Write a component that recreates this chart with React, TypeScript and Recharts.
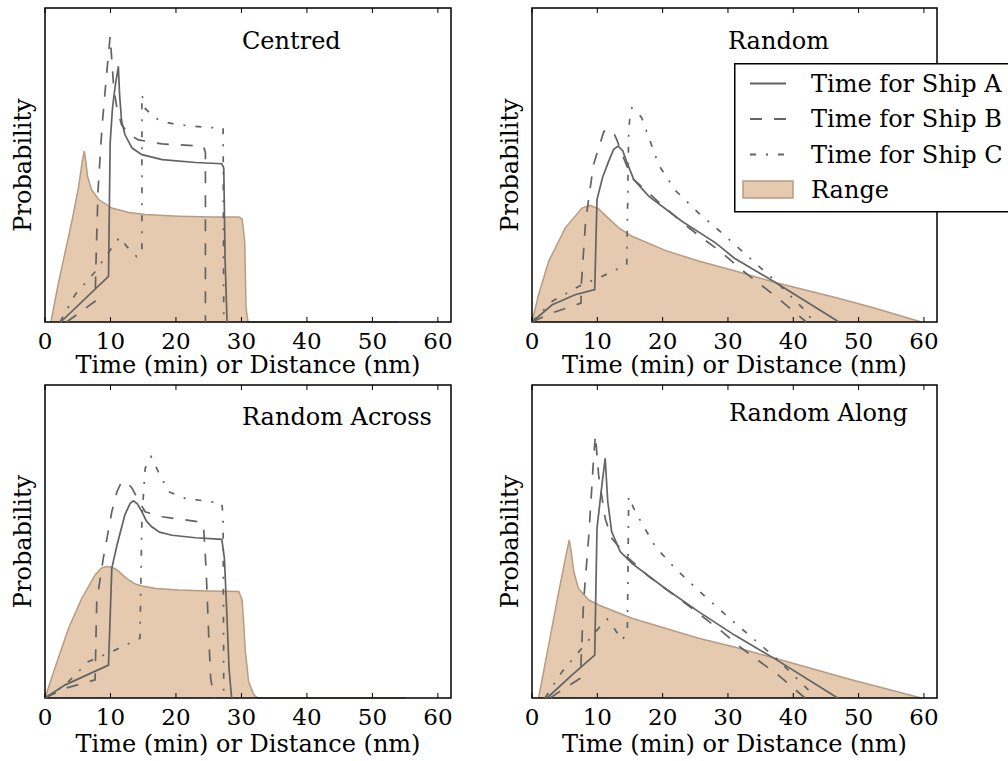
import React from 'react';
import { ComposedChart, Area, Line, XAxis, YAxis, ReferenceArea, Legend } from 'recharts';

type Pt = [number, number];

const xTicks = [0, 10, 20, 30, 40, 50, 60];

// Centred
const centredRange: Pt[] = [[0.9, 0], [2, 11.9], [3.1, 22.5], [4.1, 32], [5.1, 42.7], [5.7, 51.2], [6.0, 54.4], [6.2, 51.7], [6.5, 46.4], [7.1, 42.1], [8.2, 39], [10.2, 36.3], [12.8, 34.9], [15.3, 34.2], [20.4, 33.7], [25.5, 33.4], [29.6, 33.4], [30.1, 32.8], [30.5, 25.7], [30.7, 4.5], [31, 0], [54, 0]];
const centredShipA: Pt[] = [[2.4, 0], [9.7, 14.5], [9.95, 57], [10.3, 68], [10.7, 74.9], [11.2, 81.4], [11.4, 72], [11.7, 64], [12.2, 59.7], [13.3, 55.4], [14.8, 53.3], [17.9, 51.7], [23, 50.8], [27, 50.4], [27.3, 49], [27.5, 20], [27.8, 0]];
const centredShipB: Pt[] = [[3.3, 0], [7.65, 6.6], [7.8, 20], [8.1, 42], [8.7, 62], [9.4, 78.8], [9.95, 91], [10.5, 74.5], [11, 68], [11.7, 62.8], [13, 59.5], [14.3, 58], [17.9, 56.7], [24.2, 56], [24.5, 54], [24.5, 0]];
const centredShipC: Pt[] = [[2.3, 0], [4.6, 8.7], [7.65, 16], [10.2, 23.6], [11.4, 27], [12.5, 24], [14, 20.8], [14.8, 22], [14.8, 72.4], [15.3, 68], [16.8, 65], [18, 63.8], [20.4, 62.8], [24.5, 62], [27.2, 61.8], [27.3, 0]];

// Random
const randomRange: Pt[] = [[0, 0], [1, 8.7], [2.55, 19.3], [5.1, 30], [7.65, 36.3], [8.9, 37.2], [10.2, 36], [11.7, 33], [13.3, 30], [15.3, 27.3], [20.4, 22.8], [25.5, 19.4], [31, 16.3], [37.4, 12.5], [46.3, 7.9], [52, 4.7], [59.6, 0]];
const randomShipA: Pt[] = [[0, 0], [3.1, 5.5], [6.6, 8.7], [9.6, 10.3], [9.95, 39], [10.8, 46], [11.7, 51], [12.5, 55], [13.2, 56], [13.9, 54.5], [14.5, 51], [15.6, 45.3], [17.9, 40], [23, 32], [28.1, 25.2], [31, 20.3], [37.4, 12.4], [47, 0]];
const randomShipB: Pt[] = [[0, 0], [3.1, 2.9], [7.5, 6], [7.55, 11.9], [8.2, 32], [8.7, 39.5], [9.4, 50], [10.2, 55.4], [11, 60.7], [11.7, 61.3], [12.3, 61], [13, 58], [13.8, 53.3], [15.3, 45.9], [20.4, 36.3], [24, 30], [29.1, 22], [32.1, 16.6], [37.7, 7.5], [42, 0]];
const randomShipC: Pt[] = [[0, 0], [3.1, 6.6], [7.65, 11.9], [10.2, 14], [14.5, 18.3], [14.8, 60], [15.0, 66], [15.3, 68.2], [16.1, 67], [16.8, 65], [19.4, 50], [21.9, 42], [25.5, 34.7], [29.1, 28.3], [31.4, 24], [37.6, 12.4], [42.5, 2.2], [42.6, 0]];

// Random Across
const acrossRange: Pt[] = [[0, 0], [1.5, 9.5], [3.6, 22.3], [5.6, 31.8], [7.65, 39.3], [8.6, 41.5], [9.4, 42], [10.2, 41.8], [11, 40.9], [12, 39], [12.8, 37.7], [13.8, 36.4], [14.8, 35.8], [17, 35], [20.4, 34.5], [25, 34.2], [29.6, 34], [30.1, 31.3], [30.3, 25.5], [30.6, 14.8], [31.1, 5.2], [31.9, 1], [32.5, 0], [55, 0]];
const acrossShipA: Pt[] = [[0, 0], [3.1, 4.2], [9.7, 10.5], [10.2, 41.4], [11, 48.9], [12.2, 58.5], [13, 62.2], [13.5, 63], [14.1, 62], [14.8, 59.5], [15.5, 56.5], [16.3, 54.7], [17.5, 53], [19.4, 52], [23, 51.2], [27, 50.7], [27.4, 44.6], [27.8, 25.5], [28.1, 9.5], [28.5, 0]];
const acrossShipB: Pt[] = [[0, 0], [3.1, 3.1], [7.65, 5.8], [7.9, 30.8], [8.9, 44.6], [10.2, 59.5], [11, 66], [11.7, 69.1], [12.5, 69], [13.3, 67], [14.3, 63], [15.3, 59.5], [17.9, 57.9], [23.5, 56.3], [24.2, 55.3], [24.5, 45], [24.7, 36], [25, 20], [25.3, 6.3], [25.8, 0]];
const acrossShipC: Pt[] = [[0, 0], [3.1, 4.2], [6.6, 11.6], [10.2, 14.8], [14.5, 19.1], [14.8, 57.4], [15.3, 73.4], [16.2, 77.1], [17.3, 72.3], [18.9, 65.9], [21.4, 63.8], [27, 62.2], [27.2, 58], [27.3, 0]];

// Random Along
const alongRange: Pt[] = [[1, 0], [2.55, 16.9], [4.1, 34], [5.2, 45.5], [5.7, 50.5], [6.0, 46.8], [6.4, 40.4], [7.1, 35], [8.7, 31.3], [10.2, 29.7], [15.3, 25.5], [20.4, 22.3], [25.5, 19.1], [31, 16.3], [37.2, 12.7], [48.9, 5.8], [59.6, 0]];
const alongShipA: Pt[] = [[2.3, 0], [6.1, 7.3], [9.6, 13.7], [9.95, 54.2], [10.7, 68], [11.2, 76.6], [11.6, 62.7], [12.2, 53.1], [13.5, 46.8], [15.3, 43], [20.4, 35], [25.5, 27.6], [31, 20.1], [37.2, 12.5], [46.8, 0]];
const alongShipB: Pt[] = [[2.8, 0], [4.6, 2.6], [7.4, 6.3], [7.9, 30.8], [8.7, 52], [9.4, 75.5], [9.7, 84], [10.2, 71.2], [11.2, 57.4], [12.2, 51], [14.8, 44.6], [17.9, 38.8], [23.5, 30.2], [29.1, 21.2], [32.1, 15.9], [37.7, 7.3], [41.8, 0]];
const alongShipC: Pt[] = [[2, 0], [4.6, 8.4], [7.65, 15.9], [10.2, 22.3], [11.5, 25.2], [12.5, 22.5], [13.8, 18.5], [14.6, 21], [14.8, 64.3], [15.8, 59.5], [18.9, 48.3], [21.9, 41.4], [26.5, 32.4], [31.1, 23.9], [37.7, 12.1], [42.3, 2.6], [42.6, 0]];

const FONT = '"DejaVu Serif", serif';
const LINE = '#636363';
const LW = 1.7;
const FILL = '#e5cab0';
const EDGE = '#b59c82';
const DASH_B = '12 12';
const DASH_C = '6 10 2 10';

// one row per point, stable-sorted by x; lines use connectNulls
function mergeSeries(series: Record<string, Pt[]>) {
  const rows: any[] = [];
  Object.entries(series).forEach(([key, pts]) => {
    pts.forEach(([x, y]) => rows.push({ x, [key]: y }));
  });
  return rows.sort((a, b) => a.x - b.x);
}

const makeTick = (plotH: number) => (props: any) => {
  const { x, y, payload } = props;
  return (
    <g>
      <line x1={x} x2={x} y1={y} y2={y - 5} stroke="#000" strokeWidth={1} />
      <line x1={x} x2={x} y1={y - plotH} y2={y - plotH + 5} stroke="#000" strokeWidth={1} />
      <text x={x} y={y + 26.5} textAnchor="middle" fontFamily={FONT} fontSize={23} fill="#000">
        {payload.value}
      </text>
    </g>
  );
};

const legendItems = [
  { name: 'Time for Ship A', dash: undefined as string | undefined },
  { name: 'Time for Ship B', dash: DASH_B },
  { name: 'Time for Ship C', dash: DASH_C },
];

const renderLegend = () => (
  <svg width={290} height={150} style={{ display: 'block' }}>
    <rect x={0.75} y={0.75} width={300} height={148} fill="#fff" stroke="#000" strokeWidth={1.5} />
    {legendItems.map((it, i) => (
      <g key={it.name}>
        <line x1={16} x2={52} y1={20.5 + i * 35.5} y2={20.5 + i * 35.5} stroke={LINE} strokeWidth={LW + 0.3} strokeDasharray={it.dash} />
        <text x={77} y={28.5 + i * 35.5} fontFamily={FONT} fontSize={24} fill="#000">{it.name}</text>
      </g>
    ))}
    <rect x={9} y={118} width={50} height={17} fill={FILL} stroke={EDGE} strokeWidth={1.5} />
    <text x={77} y={135} fontFamily={FONT} fontSize={24} fill="#000">Range</text>
  </svg>
);

interface PanelProps {
  title: string;
  titleX: number;
  titleY: number;
  range: Pt[];
  shipA: Pt[];
  shipB: Pt[];
  shipC: Pt[];
  left: number;
  top: number;
  width: number;
  height: number;
  marginTop: number;
  marginRight: number;
  xAxisHeight: number;
  labelOffset: number;
  legend?: boolean;
}

const Panel: React.FC<PanelProps> = (p) => {
  const data = mergeSeries({ r: p.range, a: p.shipA, b: p.shipB, c: p.shipC });
  const plotH = p.height - p.marginTop - p.xAxisHeight;
  return (
    <div style={{ position: 'absolute', left: p.left, top: p.top }}>
      <ComposedChart width={p.width} height={p.height} data={data}
        margin={{ top: p.marginTop, right: p.marginRight, left: 0, bottom: 0 }}>
        <XAxis dataKey="x" type="number" domain={[0, 62]} ticks={xTicks} interval={0}
          height={p.xAxisHeight} axisLine={false} tickLine={false} tickSize={0} tickMargin={0}
          tick={makeTick(plotH)}
          label={{ value: 'Time (min) or Distance (nm)', position: 'insideBottom', offset: p.labelOffset, fontFamily: FONT, fontSize: 24, fill: '#000' }} />
        <YAxis type="number" domain={[0, 100]} width={45} tick={false} tickLine={false} axisLine={false}
          label={{ value: 'Probability', angle: -90, position: 'center', fontFamily: FONT, fontSize: 24, fill: '#000' }} />
        <Area dataKey="r" name="Range" type="linear" connectNulls fill={FILL} fillOpacity={1}
          stroke={EDGE} strokeWidth={1.5} isAnimationActive={false} />
        <Line dataKey="a" name="Time for Ship A" type="linear" connectNulls dot={false}
          stroke={LINE} strokeWidth={LW} isAnimationActive={false} />
        <Line dataKey="b" name="Time for Ship B" type="linear" connectNulls dot={false}
          stroke={LINE} strokeWidth={LW} strokeDasharray={DASH_B} isAnimationActive={false} />
        <Line dataKey="c" name="Time for Ship C" type="linear" connectNulls dot={false}
          stroke={LINE} strokeWidth={LW} strokeDasharray={DASH_C} isAnimationActive={false} />
        <ReferenceArea x1={0} x2={62} y1={0} y2={100} fill="none" stroke="#000" strokeWidth={1.5} ifOverflow="visible" />
        <text x={p.titleX} y={p.titleY} fontFamily={FONT} fontSize={24} fill="#000">{p.title}</text>
        {p.legend && (
          <Legend content={renderLegend} layout="vertical" align="center" verticalAlign="middle"
            wrapperStyle={{ left: 247, top: 63, width: 290, height: 150 }} />
        )}
      </ComposedChart>
    </div>
  );
};

export default function App() {
  return (
    <div style={{ position: 'absolute', left: 0, top: 0, width: 1008, height: 761, overflow: 'hidden', background: '#fff' }}>
      <Panel title="Centred" titleX={242} titleY={49} range={centredRange} shipA={centredShipA} shipB={centredShipB} shipC={centredShipC}
        left={0} top={0} width={504} height={380} marginTop={8} marginRight={53} xAxisHeight={58} labelOffset={7} />
      <Panel title="Random" titleX={241} titleY={49} range={randomRange} shipA={randomShipA} shipB={randomShipB} shipC={randomShipC}
        left={487} top={0} width={521} height={380} marginTop={8} marginRight={71} xAxisHeight={58} labelOffset={7} legend />
      <Panel title="Random Across" titleX={242} titleY={45} range={acrossRange} shipA={acrossShipA} shipB={acrossShipB} shipC={acrossShipC}
        left={0} top={380} width={504} height={381} marginTop={5} marginRight={53} xAxisHeight={63} labelOffset={9} />
      <Panel title="Random Along" titleX={242} titleY={41} range={alongRange} shipA={alongShipA} shipB={alongShipB} shipC={alongShipC}
        left={487} top={380} width={521} height={381} marginTop={5} marginRight={71} xAxisHeight={63} labelOffset={9} />
    </div>
  );
}
